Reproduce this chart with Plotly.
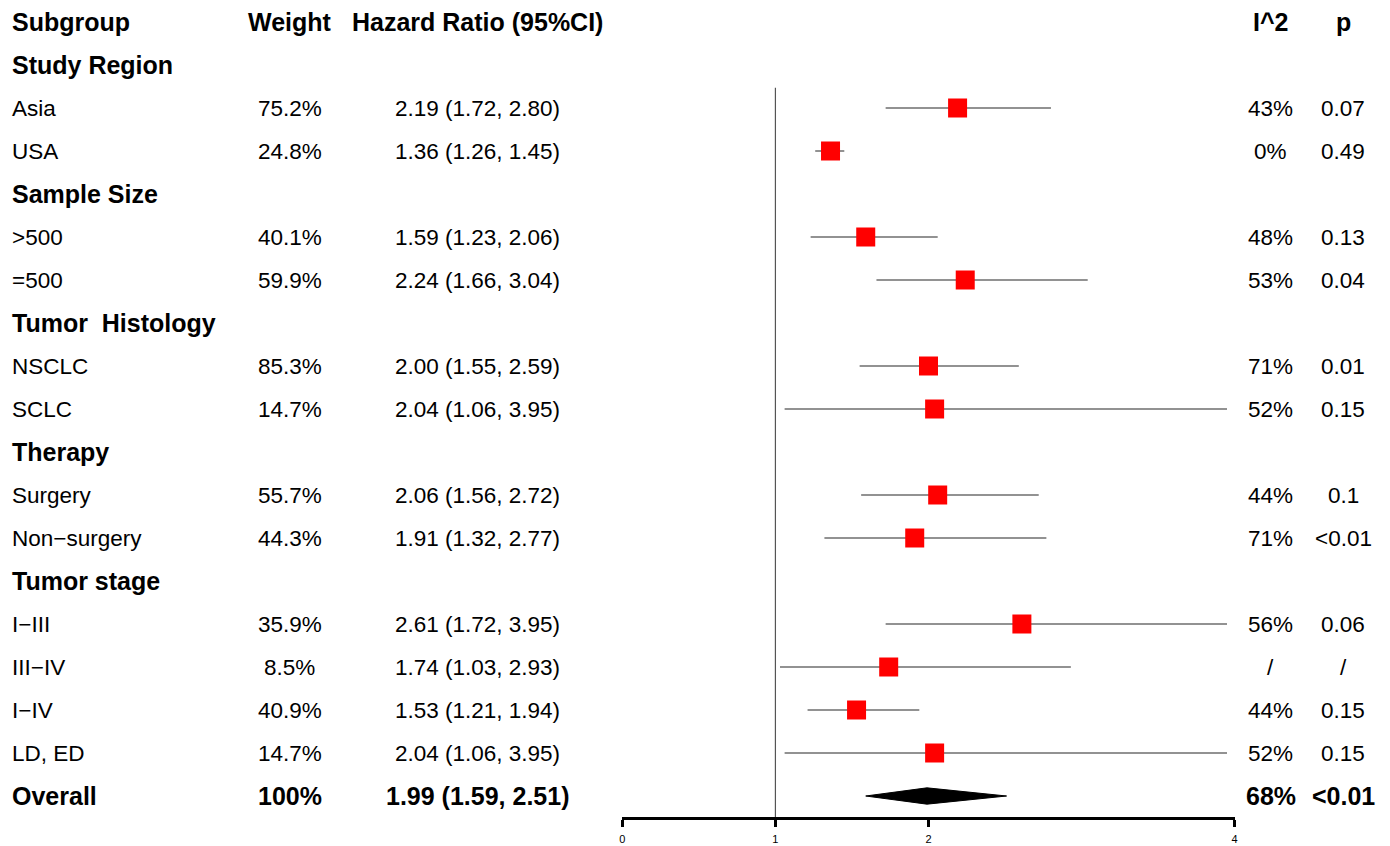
import plotly.graph_objects as go

# ---------------- data ----------------
groups = ["Study Region", "Sample Size", "Tumor  Histology", "Therapy", "Tumor stage"]
group_members = [
    ["Asia", "USA"],
    [">500", "=500"],
    ["NSCLC", "SCLC"],
    ["Surgery", "Non\u2212surgery"],
    ["I\u2212III", "III\u2212IV", "I\u2212IV", "LD, ED"],
]
weights = ["75.2%", "24.8%", "40.1%", "59.9%", "85.3%", "14.7%", "55.7%", "44.3%",
           "35.9%", "8.5%", "40.9%", "14.7%"]
hr = [2.19, 1.36, 1.59, 2.24, 2.00, 2.04, 2.06, 1.91, 2.61, 1.74, 1.53, 2.04]
lower = [1.72, 1.26, 1.23, 1.66, 1.55, 1.06, 1.56, 1.32, 1.72, 1.03, 1.21, 1.06]
upper = [2.80, 1.45, 2.06, 3.04, 2.59, 3.95, 2.72, 2.77, 3.95, 2.93, 1.94, 3.95]
i2 = ["43%", "0%", "48%", "53%", "71%", "52%", "44%", "71%", "56%", "/", "44%", "52%"]
pvals = ["0.07", "0.49", "0.13", "0.04", "0.01", "0.15", "0.1", "<0.01", "0.06", "/", "0.15", "0.15"]

overall_label = "Overall"
overall_weight = "100%"
overall_hr, overall_lo, overall_hi = 1.99, 1.59, 2.51
overall_i2, overall_p = "68%", "<0.01"

headers = ["Subgroup", "Weight", "Hazard Ratio (95%CI)", "I^2", "p"]
tick_vals = [0, 1, 2, 4]

# ---------------- layout helpers ----------------
OFF = 8                       # page body margin in the browser
W, H = 1390 - OFF, 846 - OFF  # figure size so the page fits the window
ROW0, ROWH = 22 - OFF, 43     # pixel centre of header row, row spacing
AXIS_Y = 817 - OFF            # pixel of x-axis line
X0PX, X4PX = 622 - OFF, 1237 - OFF  # pixel extent of x range [0, 4]

def px(x):
    return (x - OFF) / W

col_sub = px(7)
col_w = px(288)
col_hr = px(477)
col_i2 = px(1273)
col_p = px(1346)

FONT = "Liberation Sans, Arial, sans-serif"
REG = 22.5
BOLD = 25

fig = go.Figure()
ann = []

def txt(x, y, s, bold=False, anchor="center"):
    ann.append(dict(
        x=x, y=y, xref="paper", yref="y", text=f"<b>{s}</b>" if bold else s,
        showarrow=False, xanchor=anchor, yanchor="middle",
        font=dict(family=FONT, size=BOLD if bold else REG, color="black"),
    ))

# headers
txt(col_sub, 0, headers[0], True, "left")
txt(col_w, 0, headers[1], True)
txt(col_hr, 0, headers[2], True)
txt(col_i2, 0, headers[3], True)
txt(col_p, 0, headers[4], True)

row = 1
k = 0
ys = []
for g, members in zip(groups, group_members):
    txt(col_sub, row, g, True, "left")
    row += 1
    for m in members:
        txt(col_sub, row, m, False, "left")
        txt(col_w, row, weights[k])
        txt(col_hr, row, f"{hr[k]:.2f} ({lower[k]:.2f}, {upper[k]:.2f})")
        txt(col_i2, row, i2[k])
        txt(col_p, row, pvals[k])
        ys.append(row)
        row += 1
        k += 1

overall_row = row
txt(col_sub, overall_row, overall_label, True, "left")
txt(col_w, overall_row, overall_weight, True)
txt(col_hr, overall_row, f"{overall_hr:.2f} ({overall_lo:.2f}, {overall_hi:.2f})", True)
txt(col_i2, overall_row, overall_i2, True)
txt(col_p, overall_row, overall_p, True)

ytop = -ROW0 / ROWH
ybot = (AXIS_Y - ROW0) / ROWH

# reference line at 1
fig.add_shape(type="line", x0=1, x1=1, y0=1.53, y1=ybot,
              xref="x", yref="y", line=dict(color="#555555", width=1.2))

# CI lines
for lo, hi, y in zip(lower, upper, ys):
    fig.add_trace(go.Scatter(x=[lo, hi], y=[y, y], mode="lines",
                             line=dict(color="#6e6e6e", width=1.5),
                             hoverinfo="skip", showlegend=False))

# point estimates
fig.add_trace(go.Scatter(x=hr, y=ys, mode="markers",
                         marker=dict(symbol="square", size=19, color="#ff0000",
                                     line=dict(width=0)),
                         showlegend=False))

# overall diamond
dh = 0.19
fig.add_trace(go.Scatter(
    x=[overall_lo, overall_hr, overall_hi, overall_hr, overall_lo],
    y=[overall_row, overall_row - dh, overall_row, overall_row + dh, overall_row],
    mode="lines", fill="toself", fillcolor="black",
    line=dict(color="black", width=1), showlegend=False))

fig.update_layout(
    width=W, height=H, margin=dict(l=0, r=0, t=0, b=0),
    paper_bgcolor="white", plot_bgcolor="white",
    annotations=ann,
    xaxis=dict(domain=[X0PX / W, X4PX / W], range=[0, 4], tickvals=tick_vals,
               ticktext=[str(t) for t in tick_vals], showgrid=False, zeroline=False,
               showline=True, linecolor="black", linewidth=3,
               ticks="outside", ticklen=7, tickwidth=3, tickcolor="black",
               ticklabelstandoff=3,
               tickfont=dict(family=FONT, size=11, color="black")),
    yaxis=dict(domain=[(H - AXIS_Y) / H, 1], range=[ybot, ytop], visible=False,
               showgrid=False, zeroline=False),
)

fig.write_html("out.html")
